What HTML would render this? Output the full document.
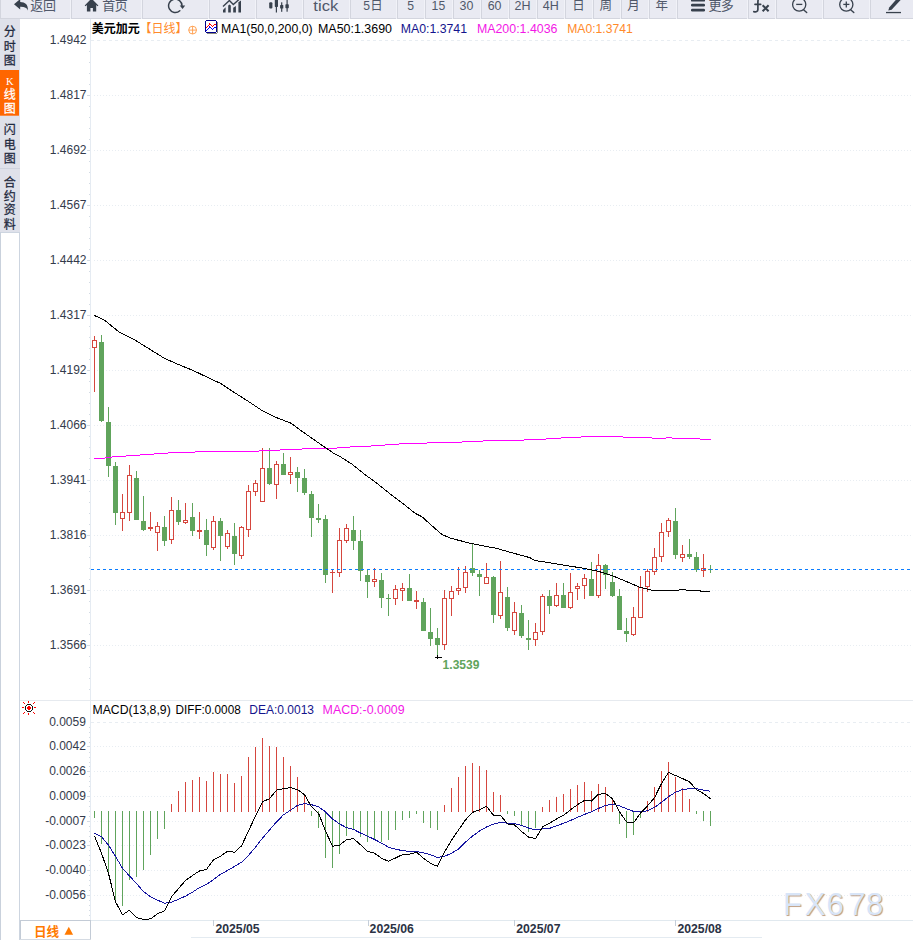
<!DOCTYPE html>
<html><head><meta charset="utf-8"><title>chart</title><style>html,body{margin:0;padding:0;background:#fff}body{width:913px;height:940px;overflow:hidden}svg{display:block}</style></head><body>
<svg width="913" height="940" viewBox="0 0 913 940" font-family='"Liberation Sans", "Noto Sans CJK SC", sans-serif'>
<rect width="913" height="940" fill="#fff"/>
<g id="toolbar">
<rect x="0" y="0" width="913" height="18" fill="#e9eaf2"/>
<rect x="0" y="18" width="913" height="1" fill="#d3d5de"/>
<rect x="0" y="0" width="1" height="18" fill="#d3d5de"/>
<rect x="70" y="0" width="1" height="19" fill="#f1f2f8"/><rect x="71" y="0" width="1" height="18" fill="#d3d5de"/>
<rect x="141" y="0" width="1" height="19" fill="#f1f2f8"/><rect x="142" y="0" width="1" height="18" fill="#d3d5de"/>
<rect x="208" y="0" width="1" height="19" fill="#f1f2f8"/><rect x="209" y="0" width="1" height="18" fill="#d3d5de"/>
<rect x="255" y="0" width="1" height="19" fill="#f1f2f8"/><rect x="256" y="0" width="1" height="18" fill="#d3d5de"/>
<rect x="302" y="0" width="1" height="19" fill="#f1f2f8"/><rect x="303" y="0" width="1" height="18" fill="#d3d5de"/>
<rect x="349" y="0" width="1" height="19" fill="#f1f2f8"/><rect x="350" y="0" width="1" height="18" fill="#d3d5de"/>
<rect x="396" y="0" width="1" height="19" fill="#f1f2f8"/><rect x="397" y="0" width="1" height="18" fill="#d3d5de"/>
<rect x="424" y="0" width="1" height="19" fill="#f1f2f8"/><rect x="425" y="0" width="1" height="18" fill="#d3d5de"/>
<rect x="452" y="0" width="1" height="19" fill="#f1f2f8"/><rect x="453" y="0" width="1" height="18" fill="#d3d5de"/>
<rect x="480" y="0" width="1" height="19" fill="#f1f2f8"/><rect x="481" y="0" width="1" height="18" fill="#d3d5de"/>
<rect x="508" y="0" width="1" height="19" fill="#f1f2f8"/><rect x="509" y="0" width="1" height="18" fill="#d3d5de"/>
<rect x="536" y="0" width="1" height="19" fill="#f1f2f8"/><rect x="537" y="0" width="1" height="18" fill="#d3d5de"/>
<rect x="564" y="0" width="1" height="19" fill="#f1f2f8"/><rect x="565" y="0" width="1" height="18" fill="#d3d5de"/>
<rect x="592" y="0" width="1" height="19" fill="#f1f2f8"/><rect x="593" y="0" width="1" height="18" fill="#d3d5de"/>
<rect x="620" y="0" width="1" height="19" fill="#f1f2f8"/><rect x="621" y="0" width="1" height="18" fill="#d3d5de"/>
<rect x="648" y="0" width="1" height="19" fill="#f1f2f8"/><rect x="649" y="0" width="1" height="18" fill="#d3d5de"/>
<rect x="676" y="0" width="1" height="19" fill="#f1f2f8"/><rect x="677" y="0" width="1" height="18" fill="#d3d5de"/>
<rect x="747" y="0" width="1" height="19" fill="#f1f2f8"/><rect x="748" y="0" width="1" height="18" fill="#d3d5de"/>
<rect x="775" y="0" width="1" height="19" fill="#f1f2f8"/><rect x="776" y="0" width="1" height="18" fill="#d3d5de"/>
<rect x="822" y="0" width="1" height="19" fill="#f1f2f8"/><rect x="823" y="0" width="1" height="18" fill="#d3d5de"/>
<rect x="869" y="0" width="1" height="19" fill="#f1f2f8"/><rect x="870" y="0" width="1" height="18" fill="#d3d5de"/>
<path fill="#38414d" d="M14 4.3 L20.2 -1 L20.2 1.9 C25.5 2 28.2 4.6 28 10.6 C27 7.6 24.6 6.6 20.2 6.7 L20.2 9.6 Z"/>
<text x="30.3 42.9" y="9.9" font-size="13" fill="#50586a">返回</text>
<path fill="#38414d" d="M91.5 -1.5 L98.4 5.4 L97.6 6.2 L96.2 4.9 L96.2 11.5 L92.9 11.5 L92.9 7.9 L90.4 7.9 L90.4 11.5 L86.9 11.5 L86.9 4.9 L85.5 6.2 L84.7 5.4 Z"/>
<text x="102.2 114.8" y="9.9" font-size="13" fill="#50586a">首页</text>
<path fill="none" stroke="#38414d" stroke-width="1.5" stroke-linecap="round" d="M179.8 10.8 A6.7 6.7 0 1 1 182 6"/>
<path fill="#38414d" d="M179.7 5.4 L185.2 5.4 L182.6 8.9 Z"/>
<g fill="#38414d"><path d="M223 9.9 L225.6 7.3 L225.6 12.5 L223 12.5 Z"/><path d="M228.2 5.6 L229.5 4.4 L230.8 5.6 L230.8 12.5 L228.2 12.5 Z"/><path d="M233.2 7.7 L235.9 5.9 L235.9 12.5 L233.2 12.5 Z"/><path d="M238.4 2.2 L241 0.4 L241 12.5 L238.4 12.5 Z"/></g>
<path fill="none" stroke="#38414d" stroke-width="1.4" d="M223 6.6 L229.4 0.5 L233.3 4.5 L239 -0.5"/>
<g fill="#38414d"><rect x="269.2" y="2.3" width="3.2" height="6.3" rx="1"/><rect x="274.8" y="-1" width="3.2" height="7.9" rx="0.6"/><rect x="275.8" y="0" width="1.2" height="12.5"/><rect x="280.1" y="4.9" width="3.2" height="3.7" rx="0.6"/><rect x="281.1" y="2.3" width="1.2" height="9.5"/><rect x="285.4" y="4.3" width="3.4" height="3.9" rx="0.6"/><rect x="286.5" y="-1" width="1.2" height="12.7"/></g>
<text x="313.3" y="10.7" font-size="15.5" fill="#50586a" textLength="25" lengthAdjust="spacingAndGlyphs">tick</text>
<text x="363.2" y="10.3" font-size="13.5" fill="#50586a" textLength="6.8" lengthAdjust="spacingAndGlyphs">5</text>
<text x="370.2" y="9.9" font-size="12.5" fill="#50586a">日</text>
<text x="407.2" y="10.2" font-size="13.5" fill="#50586a" textLength="6.8" lengthAdjust="spacingAndGlyphs">5</text>
<text x="431.6" y="10.2" font-size="13.5" fill="#50586a" textLength="13.6" lengthAdjust="spacingAndGlyphs">15</text>
<text x="459.5" y="10.2" font-size="13.5" fill="#50586a" textLength="13.8" lengthAdjust="spacingAndGlyphs">30</text>
<text x="487.7" y="10.2" font-size="13.5" fill="#50586a" textLength="13.8" lengthAdjust="spacingAndGlyphs">60</text>
<text x="514.5" y="10.2" font-size="13.5" fill="#50586a" textLength="16" lengthAdjust="spacingAndGlyphs">2H</text>
<text x="542.7" y="10.2" font-size="13.5" fill="#50586a" textLength="16" lengthAdjust="spacingAndGlyphs">4H</text>
<text x="572.2" y="9.9" font-size="12.5" fill="#50586a">日</text>
<text x="599.6" y="9.9" font-size="12.5" fill="#50586a">周</text>
<text x="627.2" y="9.9" font-size="12.5" fill="#50586a">月</text>
<text x="655.6" y="9.9" font-size="12.5" fill="#50586a">年</text>
<g fill="#38414d"><rect x="691" y="-1" width="14" height="2.6" rx="1.2"/><rect x="691" y="3.8" width="14" height="2.6" rx="1.2"/><rect x="691" y="8.8" width="14" height="2.6" rx="1.2"/></g>
<text x="708.4 720.8" y="9.9" font-size="13" fill="#50586a">更多</text>
<path fill="none" stroke="#38414d" stroke-width="1.7" stroke-linecap="round" d="M760.5 -1 C758.5 -1.5 757.9 -0.5 757.9 2 L757.9 9.5 C757.9 11.6 756.2 12.2 753.8 11.6 M755 4.3 L760.7 4.3"/>
<path fill="none" stroke="#38414d" stroke-width="2" d="M762.6 5.2 L768.6 11.3 M768.6 5.2 L762.6 11.3"/>
<circle cx="799.2" cy="4.5" r="6.6" fill="none" stroke="#38414d" stroke-width="1.3"/>
<path stroke="#38414d" stroke-width="1.4" stroke-linecap="round" d="M803.8000000000001 9.9 L806.7 12.5"/>
<path stroke="#38414d" stroke-width="1.3" d="M796.2 4.4 L802.3000000000001 4.4"/>
<circle cx="846.3" cy="4.5" r="6.6" fill="none" stroke="#38414d" stroke-width="1.3"/>
<path stroke="#38414d" stroke-width="1.4" stroke-linecap="round" d="M850.9 9.9 L853.8 12.5"/>
<path stroke="#38414d" stroke-width="1.3" d="M843.3 4.4 L849.4 4.4"/>
<path stroke="#38414d" stroke-width="1.3" d="M846.3 1.4 L846.3 7.5"/>
<path fill="#38414d" d="M888.3 10.6 L889.2 7.4 L896.6 -1 L900.6 -1 L900.6 0 L891.6 9.7 Z"/>
<rect x="886" y="11.9" width="15" height="1.3" fill="#38414d"/>
</g>
<g id="sidebar">
<rect x="0" y="19" width="20" height="213.5" fill="#dfe1ea"/>
<rect x="0" y="70" width="19" height="45.7" fill="#ff6600"/>
<rect x="0" y="168" width="20" height="1" fill="#cfd3de"/>
<rect x="0" y="232" width="20" height="1" fill="#cdd5e0"/><rect x="0" y="232" width="1" height="708" fill="#c9d1dc"/><rect x="19" y="232" width="1" height="708" fill="#cdd5e0"/>
<text x="3.7" y="35.96" font-size="12" fill="#1f2a40" stroke="#1f2a40" stroke-width="0.26">分</text>
<text x="3.7" y="50.66" font-size="12" fill="#1f2a40" stroke="#1f2a40" stroke-width="0.26">时</text>
<text x="3.7" y="64.76" font-size="12" fill="#1f2a40" stroke="#1f2a40" stroke-width="0.26">图</text>
<text x="9.7" y="85.0" font-size="10.5" font-family='"Liberation Serif", serif' fill="#fff" text-anchor="middle">K</text>
<text x="3.7" y="99.16" font-size="12" fill="#fff" stroke="#fff" stroke-width="0.26">线</text>
<text x="3.7" y="113.46" font-size="12" fill="#fff" stroke="#fff" stroke-width="0.26">图</text>
<text x="3.7" y="134.26" font-size="12" fill="#1f2a40" stroke="#1f2a40" stroke-width="0.26">闪</text>
<text x="3.7" y="148.76" font-size="12" fill="#1f2a40" stroke="#1f2a40" stroke-width="0.26">电</text>
<text x="3.7" y="162.66" font-size="12" fill="#1f2a40" stroke="#1f2a40" stroke-width="0.26">图</text>
<text x="3.7" y="186.56" font-size="12" fill="#1f2a40" stroke="#1f2a40" stroke-width="0.26">合</text>
<text x="3.7" y="200.66" font-size="12" fill="#1f2a40" stroke="#1f2a40" stroke-width="0.26">约</text>
<text x="3.7" y="214.46" font-size="12" fill="#1f2a40" stroke="#1f2a40" stroke-width="0.26">资</text>
<text x="3.7" y="228.56" font-size="12" fill="#1f2a40" stroke="#1f2a40" stroke-width="0.26">料</text>
</g>
<g id="grid" shape-rendering="crispEdges">
<rect x="90" y="19" width="1" height="902" fill="#e5ebf2"/>
<rect x="20" y="700" width="893" height="1" fill="#e6eaef"/>
<rect x="20" y="920" width="893" height="1" fill="#e1e9ef"/>
<rect x="191" y="937" width="571" height="1" fill="#e4ebf1"/>
<line x1="91" y1="40.5" x2="911" y2="40.5" stroke="#e8edf2" stroke-width="1" stroke-dasharray="3 3"/>
<rect x="89" y="51" width="1" height="1" fill="#d3dbe4"/>
<rect x="89" y="62" width="1" height="1" fill="#d3dbe4"/>
<rect x="89" y="73" width="1" height="1" fill="#d3dbe4"/>
<rect x="89" y="84" width="1" height="1" fill="#d3dbe4"/>
<line x1="94" y1="95.5" x2="911" y2="95.5" stroke="#e8edf2" stroke-width="1" stroke-dasharray="1 2"/>
<rect x="87" y="95" width="3" height="1" fill="#d3dbe4"/>
<rect x="89" y="106" width="1" height="1" fill="#d3dbe4"/>
<rect x="89" y="117" width="1" height="1" fill="#d3dbe4"/>
<rect x="89" y="128" width="1" height="1" fill="#d3dbe4"/>
<rect x="89" y="139" width="1" height="1" fill="#d3dbe4"/>
<line x1="94" y1="150.5" x2="911" y2="150.5" stroke="#e8edf2" stroke-width="1" stroke-dasharray="1 2"/>
<rect x="87" y="150" width="3" height="1" fill="#d3dbe4"/>
<rect x="89" y="161" width="1" height="1" fill="#d3dbe4"/>
<rect x="89" y="172" width="1" height="1" fill="#d3dbe4"/>
<rect x="89" y="183" width="1" height="1" fill="#d3dbe4"/>
<rect x="89" y="194" width="1" height="1" fill="#d3dbe4"/>
<line x1="94" y1="205.5" x2="911" y2="205.5" stroke="#e8edf2" stroke-width="1" stroke-dasharray="1 2"/>
<rect x="87" y="205" width="3" height="1" fill="#d3dbe4"/>
<rect x="89" y="216" width="1" height="1" fill="#d3dbe4"/>
<rect x="89" y="227" width="1" height="1" fill="#d3dbe4"/>
<rect x="89" y="238" width="1" height="1" fill="#d3dbe4"/>
<rect x="89" y="249" width="1" height="1" fill="#d3dbe4"/>
<line x1="94" y1="260.5" x2="911" y2="260.5" stroke="#e8edf2" stroke-width="1" stroke-dasharray="1 2"/>
<rect x="87" y="260" width="3" height="1" fill="#d3dbe4"/>
<rect x="89" y="271" width="1" height="1" fill="#d3dbe4"/>
<rect x="89" y="282" width="1" height="1" fill="#d3dbe4"/>
<rect x="89" y="293" width="1" height="1" fill="#d3dbe4"/>
<rect x="89" y="304" width="1" height="1" fill="#d3dbe4"/>
<line x1="94" y1="315.5" x2="911" y2="315.5" stroke="#e8edf2" stroke-width="1" stroke-dasharray="1 2"/>
<rect x="87" y="315" width="3" height="1" fill="#d3dbe4"/>
<rect x="89" y="326" width="1" height="1" fill="#d3dbe4"/>
<rect x="89" y="337" width="1" height="1" fill="#d3dbe4"/>
<rect x="89" y="348" width="1" height="1" fill="#d3dbe4"/>
<rect x="89" y="359" width="1" height="1" fill="#d3dbe4"/>
<line x1="94" y1="370.5" x2="911" y2="370.5" stroke="#e8edf2" stroke-width="1" stroke-dasharray="1 2"/>
<rect x="87" y="370" width="3" height="1" fill="#d3dbe4"/>
<rect x="89" y="381" width="1" height="1" fill="#d3dbe4"/>
<rect x="89" y="392" width="1" height="1" fill="#d3dbe4"/>
<rect x="89" y="403" width="1" height="1" fill="#d3dbe4"/>
<rect x="89" y="414" width="1" height="1" fill="#d3dbe4"/>
<line x1="94" y1="425.5" x2="911" y2="425.5" stroke="#e8edf2" stroke-width="1" stroke-dasharray="1 2"/>
<rect x="87" y="425" width="3" height="1" fill="#d3dbe4"/>
<rect x="89" y="436" width="1" height="1" fill="#d3dbe4"/>
<rect x="89" y="447" width="1" height="1" fill="#d3dbe4"/>
<rect x="89" y="458" width="1" height="1" fill="#d3dbe4"/>
<rect x="89" y="469" width="1" height="1" fill="#d3dbe4"/>
<line x1="94" y1="480.5" x2="911" y2="480.5" stroke="#e8edf2" stroke-width="1" stroke-dasharray="1 2"/>
<rect x="87" y="480" width="3" height="1" fill="#d3dbe4"/>
<rect x="89" y="491" width="1" height="1" fill="#d3dbe4"/>
<rect x="89" y="502" width="1" height="1" fill="#d3dbe4"/>
<rect x="89" y="513" width="1" height="1" fill="#d3dbe4"/>
<rect x="89" y="524" width="1" height="1" fill="#d3dbe4"/>
<line x1="94" y1="535.5" x2="911" y2="535.5" stroke="#e8edf2" stroke-width="1" stroke-dasharray="1 2"/>
<rect x="87" y="535" width="3" height="1" fill="#d3dbe4"/>
<rect x="89" y="546" width="1" height="1" fill="#d3dbe4"/>
<rect x="89" y="557" width="1" height="1" fill="#d3dbe4"/>
<rect x="89" y="568" width="1" height="1" fill="#d3dbe4"/>
<rect x="89" y="579" width="1" height="1" fill="#d3dbe4"/>
<line x1="94" y1="590.5" x2="911" y2="590.5" stroke="#e8edf2" stroke-width="1" stroke-dasharray="1 2"/>
<rect x="87" y="590" width="3" height="1" fill="#d3dbe4"/>
<rect x="89" y="601" width="1" height="1" fill="#d3dbe4"/>
<rect x="89" y="612" width="1" height="1" fill="#d3dbe4"/>
<rect x="89" y="623" width="1" height="1" fill="#d3dbe4"/>
<rect x="89" y="634" width="1" height="1" fill="#d3dbe4"/>
<line x1="94" y1="645.5" x2="911" y2="645.5" stroke="#e8edf2" stroke-width="1" stroke-dasharray="1 2"/>
<rect x="87" y="645" width="3" height="1" fill="#d3dbe4"/>
<rect x="89" y="656" width="1" height="1" fill="#d3dbe4"/>
<rect x="89" y="667" width="1" height="1" fill="#d3dbe4"/>
<rect x="89" y="678" width="1" height="1" fill="#d3dbe4"/>
<rect x="89" y="689" width="1" height="1" fill="#d3dbe4"/>
<line x1="91" y1="722.5" x2="911" y2="722.5" stroke="#e8edf2" stroke-width="1" stroke-dasharray="3 3"/>
<line x1="94" y1="746.5" x2="911" y2="746.5" stroke="#e8edf2" stroke-width="1" stroke-dasharray="1 2"/>
<rect x="87" y="746" width="3" height="1" fill="#d3dbe4"/>
<line x1="94" y1="771.5" x2="911" y2="771.5" stroke="#e8edf2" stroke-width="1" stroke-dasharray="1 2"/>
<rect x="87" y="771" width="3" height="1" fill="#d3dbe4"/>
<line x1="94" y1="796.5" x2="911" y2="796.5" stroke="#e8edf2" stroke-width="1" stroke-dasharray="1 2"/>
<rect x="87" y="796" width="3" height="1" fill="#d3dbe4"/>
<line x1="94" y1="821.5" x2="911" y2="821.5" stroke="#e8edf2" stroke-width="1" stroke-dasharray="1 2"/>
<rect x="87" y="821" width="3" height="1" fill="#d3dbe4"/>
<line x1="94" y1="845.5" x2="911" y2="845.5" stroke="#e8edf2" stroke-width="1" stroke-dasharray="1 2"/>
<rect x="87" y="845" width="3" height="1" fill="#d3dbe4"/>
<line x1="94" y1="870.5" x2="911" y2="870.5" stroke="#e8edf2" stroke-width="1" stroke-dasharray="1 2"/>
<rect x="87" y="870" width="3" height="1" fill="#d3dbe4"/>
<line x1="94" y1="895.5" x2="911" y2="895.5" stroke="#e8edf2" stroke-width="1" stroke-dasharray="1 2"/>
<rect x="87" y="895" width="3" height="1" fill="#d3dbe4"/>
<rect x="89" y="727" width="1" height="1" fill="#d3dbe4"/>
<rect x="89" y="732" width="1" height="1" fill="#d3dbe4"/>
<rect x="89" y="737" width="1" height="1" fill="#d3dbe4"/>
<rect x="89" y="742" width="1" height="1" fill="#d3dbe4"/>
<rect x="89" y="752" width="1" height="1" fill="#d3dbe4"/>
<rect x="89" y="757" width="1" height="1" fill="#d3dbe4"/>
<rect x="89" y="762" width="1" height="1" fill="#d3dbe4"/>
<rect x="89" y="766" width="1" height="1" fill="#d3dbe4"/>
<rect x="89" y="776" width="1" height="1" fill="#d3dbe4"/>
<rect x="89" y="781" width="1" height="1" fill="#d3dbe4"/>
<rect x="89" y="786" width="1" height="1" fill="#d3dbe4"/>
<rect x="89" y="791" width="1" height="1" fill="#d3dbe4"/>
<rect x="89" y="801" width="1" height="1" fill="#d3dbe4"/>
<rect x="89" y="806" width="1" height="1" fill="#d3dbe4"/>
<rect x="89" y="811" width="1" height="1" fill="#d3dbe4"/>
<rect x="89" y="816" width="1" height="1" fill="#d3dbe4"/>
<rect x="89" y="826" width="1" height="1" fill="#d3dbe4"/>
<rect x="89" y="831" width="1" height="1" fill="#d3dbe4"/>
<rect x="89" y="836" width="1" height="1" fill="#d3dbe4"/>
<rect x="89" y="841" width="1" height="1" fill="#d3dbe4"/>
<rect x="89" y="850" width="1" height="1" fill="#d3dbe4"/>
<rect x="89" y="855" width="1" height="1" fill="#d3dbe4"/>
<rect x="89" y="860" width="1" height="1" fill="#d3dbe4"/>
<rect x="89" y="865" width="1" height="1" fill="#d3dbe4"/>
<rect x="89" y="875" width="1" height="1" fill="#d3dbe4"/>
<rect x="89" y="880" width="1" height="1" fill="#d3dbe4"/>
<rect x="89" y="885" width="1" height="1" fill="#d3dbe4"/>
<rect x="89" y="890" width="1" height="1" fill="#d3dbe4"/>
<rect x="89" y="900" width="1" height="1" fill="#d3dbe4"/>
<rect x="89" y="905" width="1" height="1" fill="#d3dbe4"/>
<rect x="89" y="910" width="1" height="1" fill="#d3dbe4"/>
<rect x="89" y="915" width="1" height="1" fill="#d3dbe4"/>
<rect x="213" y="920" width="1" height="6" fill="#c5ced9"/>
<rect x="368" y="920" width="1" height="6" fill="#c5ced9"/>
<rect x="514" y="920" width="1" height="6" fill="#c5ced9"/>
<rect x="675" y="920" width="1" height="6" fill="#c5ced9"/>
</g>
<text x="86.5" y="43.6" font-size="12" fill="#333a4b" text-anchor="end">1.4942</text>
<text x="86.5" y="98.6" font-size="12" fill="#333a4b" text-anchor="end">1.4817</text>
<text x="86.5" y="153.6" font-size="12" fill="#333a4b" text-anchor="end">1.4692</text>
<text x="86.5" y="208.6" font-size="12" fill="#333a4b" text-anchor="end">1.4567</text>
<text x="86.5" y="263.6" font-size="12" fill="#333a4b" text-anchor="end">1.4442</text>
<text x="86.5" y="318.6" font-size="12" fill="#333a4b" text-anchor="end">1.4317</text>
<text x="86.5" y="373.6" font-size="12" fill="#333a4b" text-anchor="end">1.4192</text>
<text x="86.5" y="428.6" font-size="12" fill="#333a4b" text-anchor="end">1.4066</text>
<text x="86.5" y="483.6" font-size="12" fill="#333a4b" text-anchor="end">1.3941</text>
<text x="86.5" y="538.6" font-size="12" fill="#333a4b" text-anchor="end">1.3816</text>
<text x="86.5" y="593.6" font-size="12" fill="#333a4b" text-anchor="end">1.3691</text>
<text x="86.5" y="648.6" font-size="12" fill="#333a4b" text-anchor="end">1.3566</text>
<text x="85.9" y="726.1" font-size="12" fill="#333a4b" text-anchor="end">0.0059</text>
<text x="85.9" y="750.1" font-size="12" fill="#333a4b" text-anchor="end">0.0042</text>
<text x="85.9" y="775.1" font-size="12" fill="#333a4b" text-anchor="end">0.0026</text>
<text x="85.9" y="800.1" font-size="12" fill="#333a4b" text-anchor="end">0.0009</text>
<text x="85.9" y="825.1" font-size="12" fill="#333a4b" text-anchor="end">-0.0007</text>
<text x="85.9" y="849.1" font-size="12" fill="#333a4b" text-anchor="end">-0.0023</text>
<text x="85.9" y="874.1" font-size="12" fill="#333a4b" text-anchor="end">-0.0040</text>
<text x="85.9" y="899.1" font-size="12" fill="#333a4b" text-anchor="end">-0.0056</text>
<text x="215.4" y="932.7" font-size="12" fill="#2b3244" textLength="44.3" lengthAdjust="spacingAndGlyphs" font-weight="bold">2025/05</text>
<text x="369.6" y="932.7" font-size="12" fill="#2b3244" textLength="44.3" lengthAdjust="spacingAndGlyphs" font-weight="bold">2025/06</text>
<text x="516.2" y="932.7" font-size="12" fill="#2b3244" textLength="44.3" lengthAdjust="spacingAndGlyphs" font-weight="bold">2025/07</text>
<text x="677.4" y="932.7" font-size="12" fill="#2b3244" textLength="44.3" lengthAdjust="spacingAndGlyphs" font-weight="bold">2025/08</text>
<text x="91.8 103.8 115.8 127.8" y="33.3" font-size="12" fill="#000" font-weight="bold">美元加元</text>
<text x="139.6 151.6 163.6 175.6" y="33.3" font-size="12" fill="#ff8a2a">【日线】</text>
<g stroke="#ff9a45" stroke-width="0.9" fill="none"><circle cx="192.6" cy="30.1" r="3.9"/><path d="M188.7 30.1 H196.5 M192.6 26.2 V34"/></g>
<g shape-rendering="crispEdges">
<rect x="217" y="22" width="1" height="11" fill="#8a8a7c"/><rect x="207" y="33" width="10" height="1" fill="#8a8a7c"/>
<rect x="206" y="21" width="10" height="11" fill="#fff"/>
<rect x="206" y="20" width="10" height="1" fill="#00008b"/><rect x="206" y="32" width="10" height="1" fill="#00008b"/><rect x="205" y="21" width="1" height="11" fill="#00008b"/><rect x="216" y="21" width="1" height="11" fill="#00008b"/>
<rect x="206" y="27" width="1" height="1" fill="#f00"/><rect x="206" y="30" width="1" height="1" fill="#00f"/>
<rect x="207" y="26" width="1" height="1" fill="#f00"/><rect x="207" y="29" width="1" height="1" fill="#00f"/>
<rect x="208" y="25" width="1" height="1" fill="#f00"/><rect x="208" y="28" width="1" height="1" fill="#00f"/>
<rect x="209" y="23" width="1" height="1" fill="#f00"/><rect x="209" y="26" width="1" height="1" fill="#00f"/>
<rect x="209" y="24" width="1" height="1" fill="#f00"/><rect x="209" y="27" width="1" height="1" fill="#00f"/>
<rect x="210" y="24" width="1" height="1" fill="#f00"/><rect x="210" y="27" width="1" height="1" fill="#00f"/>
<rect x="211" y="25" width="1" height="1" fill="#f00"/><rect x="211" y="28" width="1" height="1" fill="#00f"/>
<rect x="212" y="26" width="1" height="1" fill="#f00"/><rect x="212" y="29" width="1" height="1" fill="#00f"/>
<rect x="213" y="25" width="1" height="1" fill="#f00"/><rect x="213" y="28" width="1" height="1" fill="#00f"/>
<rect x="214" y="24" width="1" height="1" fill="#f00"/><rect x="214" y="27" width="1" height="1" fill="#00f"/>
<rect x="215" y="24" width="1" height="1" fill="#f00"/><rect x="215" y="27" width="1" height="1" fill="#00f"/>
</g>
<text x="221" y="32.8" font-size="12" fill="#000" textLength="91.6" lengthAdjust="spacingAndGlyphs">MA1(50,0,200,0)</text>
<text x="318" y="32.8" font-size="12" fill="#000" textLength="74" lengthAdjust="spacingAndGlyphs">MA50:1.3690</text>
<text x="400.7" y="32.8" font-size="12" fill="#14148c" textLength="66.3" lengthAdjust="spacingAndGlyphs">MA0:1.3741</text>
<text x="476.9" y="32.8" font-size="12" fill="#f318e6" textLength="80.6" lengthAdjust="spacingAndGlyphs">MA200:1.4036</text>
<text x="567.2" y="32.8" font-size="12" fill="#ff8a2a" textLength="65.5" lengthAdjust="spacingAndGlyphs">MA0:1.3741</text>
<text x="92.5" y="714.4" font-size="12" fill="#000" textLength="78.2" lengthAdjust="spacingAndGlyphs">MACD(13,8,9)</text>
<text x="175.5" y="714.4" font-size="12" fill="#000" textLength="65.2" lengthAdjust="spacingAndGlyphs">DIFF:0.0008</text>
<text x="249.3" y="714.4" font-size="12" fill="#14148c" textLength="64.7" lengthAdjust="spacingAndGlyphs">DEA:0.0013</text>
<text x="322.6" y="714.4" font-size="12" fill="#f318e6" textLength="82" lengthAdjust="spacingAndGlyphs">MACD:-0.0009</text>
<g shape-rendering="crispEdges">
<rect x="27" y="704" width="4" height="1" fill="#111"/>
<rect x="26" y="705" width="1" height="1" fill="#111"/>
<rect x="31" y="705" width="1" height="1" fill="#111"/>
<rect x="25" y="706" width="1" height="4" fill="#111"/>
<rect x="32" y="706" width="1" height="4" fill="#111"/>
<rect x="26" y="710" width="1" height="1" fill="#111"/>
<rect x="31" y="710" width="1" height="1" fill="#111"/>
<rect x="27" y="711" width="4" height="1" fill="#111"/>
<rect x="28" y="706" width="2" height="4" fill="#f00"/>
<rect x="27" y="707" width="4" height="2" fill="#f00"/>
<rect x="28" y="701" width="1" height="2" fill="#f00"/>
<rect x="28" y="713" width="1" height="2" fill="#f00"/>
<rect x="22" y="707" width="2" height="1" fill="#f00"/>
<rect x="34" y="707" width="2" height="1" fill="#f00"/>
<rect x="23" y="702" width="1" height="1" fill="#f00"/>
<rect x="24" y="703" width="1" height="1" fill="#f00"/>
<rect x="34" y="702" width="1" height="1" fill="#f00"/>
<rect x="33" y="703" width="1" height="1" fill="#f00"/>
<rect x="23" y="713" width="1" height="1" fill="#f00"/>
<rect x="24" y="712" width="1" height="1" fill="#f00"/>
<rect x="34" y="713" width="1" height="1" fill="#f00"/>
<rect x="33" y="712" width="1" height="1" fill="#f00"/>
</g>
<g id="candles" shape-rendering="crispEdges">
<rect x="94" y="336" width="1" height="4" fill="#d5463e"/>
<rect x="94" y="348" width="1" height="44" fill="#d5463e"/>
<path fill="#d5463e" fill-rule="evenodd" d="M92 340h5v8h-5z M93 341v6h3v-6z"/>
<rect x="101" y="335" width="1" height="87" fill="#60a45c"/>
<rect x="99" y="342" width="5" height="79" fill="#60a45c"/>
<rect x="108" y="407" width="1" height="70" fill="#60a45c"/>
<rect x="106" y="422" width="5" height="44" fill="#60a45c"/>
<rect x="115" y="462" width="1" height="63" fill="#60a45c"/>
<rect x="113" y="466" width="5" height="47" fill="#60a45c"/>
<rect x="122" y="494" width="1" height="18" fill="#d5463e"/>
<rect x="122" y="519" width="1" height="12" fill="#d5463e"/>
<path fill="#d5463e" fill-rule="evenodd" d="M120 512h5v7h-5z M121 513v5h3v-5z"/>
<rect x="129" y="465" width="1" height="10" fill="#d5463e"/>
<rect x="129" y="513" width="1" height="8" fill="#d5463e"/>
<path fill="#d5463e" fill-rule="evenodd" d="M127 475h5v38h-5z M128 476v36h3v-36z"/>
<rect x="136" y="471" width="1" height="49" fill="#60a45c"/>
<rect x="134" y="478" width="5" height="42" fill="#60a45c"/>
<rect x="143" y="496" width="1" height="35" fill="#60a45c"/>
<rect x="141" y="521" width="5" height="9" fill="#60a45c"/>
<rect x="150" y="512" width="1" height="15" fill="#d5463e"/>
<rect x="150" y="529" width="1" height="2" fill="#d5463e"/>
<rect x="148" y="527" width="5" height="2" fill="#d5463e"/>
<rect x="157" y="522" width="1" height="4" fill="#d5463e"/>
<rect x="157" y="533" width="1" height="18" fill="#d5463e"/>
<path fill="#d5463e" fill-rule="evenodd" d="M155 526h5v7h-5z M156 527v5h3v-5z"/>
<rect x="164" y="516" width="1" height="30" fill="#60a45c"/>
<rect x="162" y="527" width="5" height="14" fill="#60a45c"/>
<rect x="171" y="497" width="1" height="13" fill="#d5463e"/>
<rect x="171" y="540" width="1" height="4" fill="#d5463e"/>
<path fill="#d5463e" fill-rule="evenodd" d="M169 510h5v30h-5z M170 511v28h3v-28z"/>
<rect x="178" y="500" width="1" height="25" fill="#60a45c"/>
<rect x="176" y="510" width="5" height="12" fill="#60a45c"/>
<rect x="185" y="503" width="1" height="17" fill="#d5463e"/>
<rect x="185" y="523" width="1" height="1" fill="#d5463e"/>
<path fill="#d5463e" fill-rule="evenodd" d="M183 520h5v3h-5z M184 521v1h3v-1z"/>
<rect x="192" y="503" width="1" height="33" fill="#60a45c"/>
<rect x="190" y="517" width="5" height="14" fill="#60a45c"/>
<rect x="199" y="512" width="1" height="18" fill="#d5463e"/>
<rect x="199" y="532" width="1" height="7" fill="#d5463e"/>
<rect x="197" y="530" width="5" height="2" fill="#d5463e"/>
<rect x="206" y="519" width="1" height="37" fill="#60a45c"/>
<rect x="204" y="530" width="5" height="15" fill="#60a45c"/>
<rect x="213" y="516" width="1" height="5" fill="#d5463e"/>
<rect x="213" y="548" width="1" height="2" fill="#d5463e"/>
<path fill="#d5463e" fill-rule="evenodd" d="M211 521h5v27h-5z M212 522v25h3v-25z"/>
<rect x="220" y="518" width="1" height="43" fill="#60a45c"/>
<rect x="218" y="521" width="5" height="15" fill="#60a45c"/>
<rect x="227" y="530" width="1" height="3" fill="#d5463e"/>
<rect x="227" y="547" width="1" height="2" fill="#d5463e"/>
<path fill="#d5463e" fill-rule="evenodd" d="M225 533h5v14h-5z M226 534v12h3v-12z"/>
<rect x="234" y="523" width="1" height="42" fill="#60a45c"/>
<rect x="232" y="536" width="5" height="18" fill="#60a45c"/>
<rect x="241" y="526" width="1" height="1" fill="#d5463e"/>
<rect x="241" y="556" width="1" height="3" fill="#d5463e"/>
<path fill="#d5463e" fill-rule="evenodd" d="M239 527h5v29h-5z M240 528v27h3v-27z"/>
<rect x="248" y="485" width="1" height="6" fill="#d5463e"/>
<rect x="248" y="530" width="1" height="7" fill="#d5463e"/>
<path fill="#d5463e" fill-rule="evenodd" d="M246 491h5v39h-5z M247 492v37h3v-37z"/>
<rect x="255" y="480" width="1" height="3" fill="#d5463e"/>
<rect x="255" y="492" width="1" height="4" fill="#d5463e"/>
<path fill="#d5463e" fill-rule="evenodd" d="M253 483h5v9h-5z M254 484v7h3v-7z"/>
<rect x="262" y="448" width="1" height="20" fill="#d5463e"/>
<path fill="#d5463e" fill-rule="evenodd" d="M260 468h5v34h-5z M261 469v32h3v-32z"/>
<rect x="269" y="448" width="1" height="37" fill="#60a45c"/>
<rect x="267" y="468" width="5" height="16" fill="#60a45c"/>
<rect x="276" y="461" width="1" height="3" fill="#d5463e"/>
<rect x="276" y="485" width="1" height="14" fill="#d5463e"/>
<path fill="#d5463e" fill-rule="evenodd" d="M274 464h5v21h-5z M275 465v19h3v-19z"/>
<rect x="283" y="453" width="1" height="22" fill="#60a45c"/>
<rect x="281" y="464" width="5" height="11" fill="#60a45c"/>
<rect x="290" y="457" width="1" height="15" fill="#d5463e"/>
<rect x="290" y="475" width="1" height="9" fill="#d5463e"/>
<path fill="#d5463e" fill-rule="evenodd" d="M288 472h5v3h-5z M289 473v1h3v-1z"/>
<rect x="297" y="467" width="1" height="25" fill="#60a45c"/>
<rect x="295" y="472" width="5" height="6" fill="#60a45c"/>
<rect x="304" y="469" width="1" height="26" fill="#60a45c"/>
<rect x="302" y="478" width="5" height="15" fill="#60a45c"/>
<rect x="311" y="491" width="1" height="46" fill="#60a45c"/>
<rect x="309" y="494" width="5" height="24" fill="#60a45c"/>
<rect x="318" y="504" width="1" height="19" fill="#60a45c"/>
<rect x="316" y="518" width="5" height="2" fill="#60a45c"/>
<rect x="325" y="515" width="1" height="68" fill="#60a45c"/>
<rect x="323" y="519" width="5" height="56" fill="#60a45c"/>
<rect x="332" y="570" width="1" height="2" fill="#d5463e"/>
<rect x="332" y="573" width="1" height="20" fill="#d5463e"/>
<rect x="330" y="572" width="5" height="1" fill="#d5463e"/>
<rect x="339" y="528" width="1" height="12" fill="#d5463e"/>
<rect x="339" y="573" width="1" height="4" fill="#d5463e"/>
<path fill="#d5463e" fill-rule="evenodd" d="M337 540h5v33h-5z M338 541v31h3v-31z"/>
<rect x="346" y="524" width="1" height="4" fill="#d5463e"/>
<rect x="346" y="541" width="1" height="2" fill="#d5463e"/>
<path fill="#d5463e" fill-rule="evenodd" d="M344 528h5v13h-5z M345 529v11h3v-11z"/>
<rect x="353" y="516" width="1" height="34" fill="#60a45c"/>
<rect x="351" y="530" width="5" height="11" fill="#60a45c"/>
<rect x="360" y="530" width="1" height="51" fill="#60a45c"/>
<rect x="358" y="541" width="5" height="30" fill="#60a45c"/>
<rect x="367" y="570" width="1" height="28" fill="#60a45c"/>
<rect x="365" y="575" width="5" height="7" fill="#60a45c"/>
<rect x="374" y="568" width="1" height="11" fill="#d5463e"/>
<rect x="374" y="582" width="1" height="5" fill="#d5463e"/>
<path fill="#d5463e" fill-rule="evenodd" d="M372 579h5v3h-5z M373 580v1h3v-1z"/>
<rect x="381" y="573" width="1" height="35" fill="#60a45c"/>
<rect x="379" y="580" width="5" height="18" fill="#60a45c"/>
<rect x="388" y="594" width="1" height="22" fill="#60a45c"/>
<rect x="386" y="598" width="5" height="1" fill="#60a45c"/>
<rect x="395" y="585" width="1" height="4" fill="#d5463e"/>
<rect x="395" y="599" width="1" height="6" fill="#d5463e"/>
<path fill="#d5463e" fill-rule="evenodd" d="M393 589h5v10h-5z M394 590v8h3v-8z"/>
<rect x="402" y="583" width="1" height="5" fill="#d5463e"/>
<rect x="402" y="591" width="1" height="10" fill="#d5463e"/>
<path fill="#d5463e" fill-rule="evenodd" d="M400 588h5v3h-5z M401 589v1h3v-1z"/>
<rect x="409" y="574" width="1" height="27" fill="#60a45c"/>
<rect x="407" y="588" width="5" height="13" fill="#60a45c"/>
<rect x="416" y="591" width="1" height="9" fill="#d5463e"/>
<rect x="416" y="602" width="1" height="7" fill="#d5463e"/>
<rect x="414" y="600" width="5" height="2" fill="#d5463e"/>
<rect x="423" y="598" width="1" height="33" fill="#60a45c"/>
<rect x="421" y="602" width="5" height="29" fill="#60a45c"/>
<rect x="430" y="608" width="1" height="38" fill="#60a45c"/>
<rect x="428" y="632" width="5" height="7" fill="#60a45c"/>
<rect x="437" y="628" width="1" height="28" fill="#60a45c"/>
<rect x="435" y="638" width="5" height="7" fill="#60a45c"/>
<rect x="444" y="590" width="1" height="8" fill="#d5463e"/>
<rect x="444" y="645" width="1" height="5" fill="#d5463e"/>
<path fill="#d5463e" fill-rule="evenodd" d="M442 598h5v47h-5z M443 599v45h3v-45z"/>
<rect x="451" y="586" width="1" height="5" fill="#d5463e"/>
<rect x="451" y="599" width="1" height="17" fill="#d5463e"/>
<path fill="#d5463e" fill-rule="evenodd" d="M449 591h5v8h-5z M450 592v6h3v-6z"/>
<rect x="458" y="567" width="1" height="21" fill="#d5463e"/>
<rect x="458" y="591" width="1" height="4" fill="#d5463e"/>
<path fill="#d5463e" fill-rule="evenodd" d="M456 588h5v3h-5z M457 589v1h3v-1z"/>
<rect x="465" y="566" width="1" height="6" fill="#d5463e"/>
<rect x="465" y="588" width="1" height="5" fill="#d5463e"/>
<path fill="#d5463e" fill-rule="evenodd" d="M463 572h5v16h-5z M464 573v14h3v-14z"/>
<rect x="472" y="544" width="1" height="32" fill="#60a45c"/>
<rect x="470" y="568" width="5" height="5" fill="#60a45c"/>
<rect x="479" y="570" width="1" height="26" fill="#60a45c"/>
<rect x="477" y="574" width="5" height="3" fill="#60a45c"/>
<rect x="486" y="563" width="1" height="14" fill="#d5463e"/>
<path fill="#d5463e" fill-rule="evenodd" d="M484 577h5v7h-5z M485 578v5h3v-5z"/>
<rect x="493" y="576" width="1" height="47" fill="#60a45c"/>
<rect x="491" y="577" width="5" height="38" fill="#60a45c"/>
<rect x="500" y="561" width="1" height="31" fill="#d5463e"/>
<rect x="500" y="616" width="1" height="3" fill="#d5463e"/>
<path fill="#d5463e" fill-rule="evenodd" d="M498 592h5v24h-5z M499 593v22h3v-22z"/>
<rect x="507" y="587" width="1" height="44" fill="#60a45c"/>
<rect x="505" y="597" width="5" height="31" fill="#60a45c"/>
<rect x="514" y="602" width="1" height="10" fill="#d5463e"/>
<rect x="514" y="631" width="1" height="4" fill="#d5463e"/>
<path fill="#d5463e" fill-rule="evenodd" d="M512 612h5v19h-5z M513 613v17h3v-17z"/>
<rect x="521" y="605" width="1" height="33" fill="#60a45c"/>
<rect x="519" y="613" width="5" height="23" fill="#60a45c"/>
<rect x="528" y="620" width="1" height="30" fill="#60a45c"/>
<rect x="526" y="638" width="5" height="2" fill="#60a45c"/>
<rect x="535" y="623" width="1" height="9" fill="#d5463e"/>
<rect x="535" y="640" width="1" height="6" fill="#d5463e"/>
<path fill="#d5463e" fill-rule="evenodd" d="M533 632h5v8h-5z M534 633v6h3v-6z"/>
<rect x="542" y="594" width="1" height="2" fill="#d5463e"/>
<rect x="542" y="632" width="1" height="3" fill="#d5463e"/>
<path fill="#d5463e" fill-rule="evenodd" d="M540 596h5v36h-5z M541 597v34h3v-34z"/>
<rect x="549" y="590" width="1" height="24" fill="#60a45c"/>
<rect x="547" y="596" width="5" height="10" fill="#60a45c"/>
<rect x="556" y="583" width="1" height="12" fill="#d5463e"/>
<rect x="556" y="606" width="1" height="1" fill="#d5463e"/>
<path fill="#d5463e" fill-rule="evenodd" d="M554 595h5v11h-5z M555 596v9h3v-9z"/>
<rect x="563" y="583" width="1" height="25" fill="#60a45c"/>
<rect x="561" y="595" width="5" height="13" fill="#60a45c"/>
<rect x="570" y="573" width="1" height="19" fill="#d5463e"/>
<rect x="570" y="608" width="1" height="1" fill="#d5463e"/>
<path fill="#d5463e" fill-rule="evenodd" d="M568 592h5v16h-5z M569 593v14h3v-14z"/>
<rect x="577" y="583" width="1" height="3" fill="#d5463e"/>
<rect x="577" y="589" width="1" height="11" fill="#d5463e"/>
<path fill="#d5463e" fill-rule="evenodd" d="M575 586h5v3h-5z M576 587v1h3v-1z"/>
<rect x="584" y="574" width="1" height="4" fill="#d5463e"/>
<rect x="584" y="586" width="1" height="13" fill="#d5463e"/>
<path fill="#d5463e" fill-rule="evenodd" d="M582 578h5v8h-5z M583 579v6h3v-6z"/>
<rect x="591" y="562" width="1" height="34" fill="#60a45c"/>
<rect x="589" y="579" width="5" height="17" fill="#60a45c"/>
<rect x="598" y="554" width="1" height="11" fill="#d5463e"/>
<rect x="598" y="596" width="1" height="2" fill="#d5463e"/>
<path fill="#d5463e" fill-rule="evenodd" d="M596 565h5v31h-5z M597 566v29h3v-29z"/>
<rect x="605" y="564" width="1" height="25" fill="#60a45c"/>
<rect x="603" y="565" width="5" height="10" fill="#60a45c"/>
<rect x="612" y="572" width="1" height="25" fill="#60a45c"/>
<rect x="610" y="582" width="5" height="14" fill="#60a45c"/>
<rect x="619" y="589" width="1" height="41" fill="#60a45c"/>
<rect x="617" y="596" width="5" height="34" fill="#60a45c"/>
<rect x="626" y="618" width="1" height="24" fill="#60a45c"/>
<rect x="624" y="631" width="5" height="3" fill="#60a45c"/>
<rect x="633" y="607" width="1" height="10" fill="#d5463e"/>
<rect x="633" y="635" width="1" height="1" fill="#d5463e"/>
<path fill="#d5463e" fill-rule="evenodd" d="M631 617h5v18h-5z M632 618v16h3v-16z"/>
<rect x="640" y="576" width="1" height="11" fill="#d5463e"/>
<path fill="#d5463e" fill-rule="evenodd" d="M638 587h5v31h-5z M639 588v29h3v-29z"/>
<rect x="647" y="569" width="1" height="2" fill="#d5463e"/>
<rect x="647" y="587" width="1" height="5" fill="#d5463e"/>
<path fill="#d5463e" fill-rule="evenodd" d="M645 571h5v16h-5z M646 572v14h3v-14z"/>
<rect x="654" y="548" width="1" height="9" fill="#d5463e"/>
<rect x="654" y="572" width="1" height="3" fill="#d5463e"/>
<path fill="#d5463e" fill-rule="evenodd" d="M652 557h5v15h-5z M653 558v13h3v-13z"/>
<rect x="661" y="523" width="1" height="9" fill="#d5463e"/>
<rect x="661" y="557" width="1" height="5" fill="#d5463e"/>
<path fill="#d5463e" fill-rule="evenodd" d="M659 532h5v25h-5z M660 533v23h3v-23z"/>
<rect x="668" y="518" width="1" height="2" fill="#d5463e"/>
<rect x="668" y="532" width="1" height="5" fill="#d5463e"/>
<path fill="#d5463e" fill-rule="evenodd" d="M666 520h5v12h-5z M667 521v10h3v-10z"/>
<rect x="675" y="508" width="1" height="51" fill="#60a45c"/>
<rect x="673" y="521" width="5" height="34" fill="#60a45c"/>
<rect x="682" y="545" width="1" height="9" fill="#d5463e"/>
<rect x="682" y="558" width="1" height="4" fill="#d5463e"/>
<path fill="#d5463e" fill-rule="evenodd" d="M680 554h5v4h-5z M681 555v2h3v-2z"/>
<rect x="689" y="539" width="1" height="20" fill="#60a45c"/>
<rect x="687" y="554" width="5" height="3" fill="#60a45c"/>
<rect x="696" y="552" width="1" height="20" fill="#60a45c"/>
<rect x="694" y="557" width="5" height="13" fill="#60a45c"/>
<rect x="703" y="554" width="1" height="14" fill="#d5463e"/>
<rect x="703" y="571" width="1" height="6" fill="#d5463e"/>
<path fill="#d5463e" fill-rule="evenodd" d="M701 568h5v3h-5z M702 569v1h3v-1z"/>
<rect x="710" y="565" width="1" height="8" fill="#60a45c"/>
<rect x="708" y="569" width="5" height="1" fill="#60a45c"/>
</g>
<line x1="91" y1="569.5" x2="911" y2="569.5" stroke="#0b7dff" stroke-width="1" stroke-dasharray="3 3" shape-rendering="crispEdges"/>
<rect x="435" y="657" width="7" height="1" fill="#000" shape-rendering="crispEdges"/><rect x="437" y="655" width="1" height="4" fill="#000" shape-rendering="crispEdges"/>
<text x="442.6" y="668.7" font-size="12" fill="#60a45c" textLength="36.8" lengthAdjust="spacingAndGlyphs" font-weight="bold">1.3539</text>
<g fill="#ff00ff" shape-rendering="crispEdges">
<rect x="94" y="458" width="11" height="1"/>
<rect x="105" y="457" width="7" height="1"/>
<rect x="112" y="456" width="14" height="1"/>
<rect x="126" y="455" width="14" height="1"/>
<rect x="140" y="454" width="14" height="1"/>
<rect x="154" y="453" width="14" height="1"/>
<rect x="168" y="452" width="27" height="1"/>
<rect x="195" y="451" width="64" height="1"/>
<rect x="259" y="450" width="21" height="1"/>
<rect x="280" y="449" width="22" height="1"/>
<rect x="302" y="448" width="35" height="1"/>
<rect x="337" y="447" width="13" height="1"/>
<rect x="350" y="446" width="21" height="1"/>
<rect x="371" y="445" width="14" height="1"/>
<rect x="385" y="444" width="14" height="1"/>
<rect x="399" y="443" width="28" height="1"/>
<rect x="427" y="442" width="35" height="1"/>
<rect x="462" y="441" width="21" height="1"/>
<rect x="483" y="440" width="41" height="1"/>
<rect x="524" y="439" width="22" height="1"/>
<rect x="546" y="438" width="15" height="1"/>
<rect x="561" y="437" width="20" height="1"/>
<rect x="581" y="436" width="42" height="1"/>
<rect x="623" y="437" width="29" height="1"/>
<rect x="652" y="438" width="14" height="1"/>
<rect x="666" y="437" width="6" height="1"/>
<rect x="672" y="438" width="28" height="1"/>
<rect x="700" y="439" width="11" height="1"/>
</g>
<polyline points="94.1,315.4 103.8,319.6 119.5,332.4 135.3,340.3 165.1,358.7 179.1,364.8 193.2,370.5 210.7,378.9 220.0,383.1 233.1,391.7 247.6,400.9 263.4,411.4 275.2,417.1 291.0,423.2 298.9,429.1 312.0,438.3 325.2,447.5 333.0,452.8 340.5,456.9 352.3,464.4 364.2,474.0 376.0,482.6 389.1,493.1 402.3,503.0 415.4,513.5 422.0,516.8 430.0,524.1 442.0,534.5 450.8,538.3 472.5,543.8 495.7,548.2 513.2,553.1 530.0,557.7 534.5,560.4 546.5,562.3 560.0,564.5 582.9,568.2 598.2,571.3 612.4,575.7 626.7,581.7 639.8,587.2 653.0,590.4 678.2,590.4 679.8,589.6 685.9,589.6 686.4,590.4 700.0,590.4 700.6,591.2 710.0,591.2" fill="none" stroke="#000" stroke-width="1" stroke-linejoin="round" shape-rendering="crispEdges"/>
<g id="macd" shape-rendering="crispEdges">
<rect x="94" y="811" width="1" height="7" fill="#60a45c"/>
<rect x="101" y="811" width="1" height="33" fill="#60a45c"/>
<rect x="108" y="811" width="1" height="61" fill="#60a45c"/>
<rect x="115" y="811" width="1" height="90" fill="#60a45c"/>
<rect x="122" y="811" width="1" height="95" fill="#60a45c"/>
<rect x="129" y="811" width="1" height="69" fill="#60a45c"/>
<rect x="136" y="811" width="1" height="66" fill="#60a45c"/>
<rect x="143" y="811" width="1" height="59" fill="#60a45c"/>
<rect x="150" y="811" width="1" height="44" fill="#60a45c"/>
<rect x="157" y="811" width="1" height="28" fill="#60a45c"/>
<rect x="164" y="811" width="1" height="18" fill="#60a45c"/>
<rect x="171" y="804" width="1" height="8" fill="#d5463e"/>
<rect x="178" y="791" width="1" height="21" fill="#d5463e"/>
<rect x="185" y="782" width="1" height="30" fill="#d5463e"/>
<rect x="192" y="780" width="1" height="32" fill="#d5463e"/>
<rect x="199" y="777" width="1" height="35" fill="#d5463e"/>
<rect x="206" y="781" width="1" height="31" fill="#d5463e"/>
<rect x="213" y="772" width="1" height="40" fill="#d5463e"/>
<rect x="220" y="774" width="1" height="38" fill="#d5463e"/>
<rect x="227" y="774" width="1" height="38" fill="#d5463e"/>
<rect x="234" y="783" width="1" height="29" fill="#d5463e"/>
<rect x="241" y="776" width="1" height="36" fill="#d5463e"/>
<rect x="248" y="757" width="1" height="55" fill="#d5463e"/>
<rect x="255" y="747" width="1" height="65" fill="#d5463e"/>
<rect x="262" y="738" width="1" height="74" fill="#d5463e"/>
<rect x="269" y="746" width="1" height="66" fill="#d5463e"/>
<rect x="276" y="747" width="1" height="65" fill="#d5463e"/>
<rect x="283" y="757" width="1" height="55" fill="#d5463e"/>
<rect x="290" y="766" width="1" height="46" fill="#d5463e"/>
<rect x="297" y="777" width="1" height="35" fill="#d5463e"/>
<rect x="304" y="794" width="1" height="18" fill="#d5463e"/>
<rect x="311" y="811" width="1" height="5" fill="#60a45c"/>
<rect x="318" y="811" width="1" height="17" fill="#60a45c"/>
<rect x="325" y="811" width="1" height="47" fill="#60a45c"/>
<rect x="332" y="811" width="1" height="57" fill="#60a45c"/>
<rect x="339" y="811" width="1" height="43" fill="#60a45c"/>
<rect x="346" y="811" width="1" height="25" fill="#60a45c"/>
<rect x="353" y="811" width="1" height="18" fill="#60a45c"/>
<rect x="360" y="811" width="1" height="26" fill="#60a45c"/>
<rect x="367" y="811" width="1" height="31" fill="#60a45c"/>
<rect x="374" y="811" width="1" height="28" fill="#60a45c"/>
<rect x="381" y="811" width="1" height="31" fill="#60a45c"/>
<rect x="388" y="811" width="1" height="29" fill="#60a45c"/>
<rect x="395" y="811" width="1" height="19" fill="#60a45c"/>
<rect x="402" y="811" width="1" height="9" fill="#60a45c"/>
<rect x="409" y="811" width="1" height="7" fill="#60a45c"/>
<rect x="416" y="811" width="1" height="3" fill="#60a45c"/>
<rect x="423" y="811" width="1" height="12" fill="#60a45c"/>
<rect x="430" y="811" width="1" height="17" fill="#60a45c"/>
<rect x="437" y="811" width="1" height="19" fill="#60a45c"/>
<rect x="444" y="805" width="1" height="7" fill="#d5463e"/>
<rect x="451" y="788" width="1" height="24" fill="#d5463e"/>
<rect x="458" y="777" width="1" height="35" fill="#d5463e"/>
<rect x="465" y="766" width="1" height="46" fill="#d5463e"/>
<rect x="472" y="763" width="1" height="49" fill="#d5463e"/>
<rect x="479" y="766" width="1" height="46" fill="#d5463e"/>
<rect x="486" y="770" width="1" height="42" fill="#d5463e"/>
<rect x="493" y="792" width="1" height="20" fill="#d5463e"/>
<rect x="500" y="795" width="1" height="17" fill="#d5463e"/>
<rect x="507" y="811" width="1" height="3" fill="#60a45c"/>
<rect x="514" y="811" width="1" height="5" fill="#60a45c"/>
<rect x="521" y="811" width="1" height="15" fill="#60a45c"/>
<rect x="528" y="811" width="1" height="21" fill="#60a45c"/>
<rect x="535" y="811" width="1" height="17" fill="#60a45c"/>
<rect x="542" y="807" width="1" height="5" fill="#d5463e"/>
<rect x="549" y="800" width="1" height="12" fill="#d5463e"/>
<rect x="556" y="797" width="1" height="15" fill="#d5463e"/>
<rect x="563" y="794" width="1" height="18" fill="#d5463e"/>
<rect x="570" y="789" width="1" height="23" fill="#d5463e"/>
<rect x="577" y="785" width="1" height="27" fill="#d5463e"/>
<rect x="584" y="782" width="1" height="30" fill="#d5463e"/>
<rect x="591" y="791" width="1" height="21" fill="#d5463e"/>
<rect x="598" y="784" width="1" height="28" fill="#d5463e"/>
<rect x="605" y="787" width="1" height="25" fill="#d5463e"/>
<rect x="612" y="800" width="1" height="12" fill="#d5463e"/>
<rect x="619" y="811" width="1" height="13" fill="#60a45c"/>
<rect x="626" y="811" width="1" height="27" fill="#60a45c"/>
<rect x="633" y="811" width="1" height="24" fill="#60a45c"/>
<rect x="640" y="811" width="1" height="7" fill="#60a45c"/>
<rect x="647" y="801" width="1" height="11" fill="#d5463e"/>
<rect x="654" y="787" width="1" height="25" fill="#d5463e"/>
<rect x="661" y="771" width="1" height="41" fill="#d5463e"/>
<rect x="668" y="762" width="1" height="50" fill="#d5463e"/>
<rect x="675" y="777" width="1" height="35" fill="#d5463e"/>
<rect x="682" y="788" width="1" height="24" fill="#d5463e"/>
<rect x="689" y="799" width="1" height="13" fill="#d5463e"/>
<rect x="696" y="811" width="1" height="3" fill="#60a45c"/>
<rect x="703" y="811" width="1" height="10" fill="#60a45c"/>
<rect x="710" y="811" width="1" height="15" fill="#60a45c"/>
</g>
<polyline points="94.5,833.4 101.5,836.7 108.5,845.2 115.5,856.3 122.5,868.4 129.5,875.9 136.5,883.5 143.5,891.6 150.5,896.7 157.5,900.1 164.5,903.3 171.5,902.1 178.5,899.3 185.5,896.1 192.5,892.2 199.5,887.6 206.5,884.5 213.5,879.5 220.5,874.4 227.5,870.4 234.5,866.4 241.5,862.3 248.5,855.3 255.5,847.2 262.5,838.1 269.5,830.0 276.5,821.9 283.5,814.8 290.5,810.2 297.5,805.4 304.5,803.7 311.5,804.7 318.5,806.8 325.5,811.8 332.5,818.9 339.5,823.9 346.5,827.6 353.5,829.4 360.5,833.0 367.5,836.1 374.5,839.5 381.5,843.1 388.5,847.2 395.5,849.2 402.5,850.6 409.5,851.4 416.5,851.6 423.5,852.8 430.5,854.8 437.5,857.5 444.5,856.3 451.5,853.2 458.5,849.2 465.5,842.1 472.5,836.1 479.5,831.0 486.5,827.0 493.5,824.1 500.5,822.5 507.5,823.1 514.5,823.5 521.5,825.4 528.5,828.0 535.5,830.0 542.5,829.0 549.5,828.4 556.5,825.8 563.5,823.3 570.5,820.5 577.5,817.3 584.5,814.4 591.5,811.8 598.5,808.4 605.5,805.4 612.5,804.3 619.5,805.8 626.5,808.8 633.5,811.4 640.5,811.8 647.5,810.8 654.5,807.4 661.5,802.3 668.5,796.7 675.5,792.2 682.5,789.6 689.5,788.6 696.5,788.6 703.5,790.2 710.5,791.2" fill="none" stroke="#1414a0" stroke-width="1" stroke-linejoin="round" shape-rendering="crispEdges"/>
<polyline points="94.5,836.1 101.5,853.2 108.5,873.4 115.5,901.7 122.5,914.8 129.5,910.2 136.5,917.5 143.5,919.5 150.5,918.9 157.5,913.8 164.5,910.8 171.5,896.7 178.5,888.6 185.5,880.5 192.5,875.5 199.5,871.0 206.5,869.4 213.5,859.7 220.5,856.3 227.5,851.2 234.5,852.2 241.5,845.9 248.5,831.0 255.5,815.9 262.5,801.7 269.5,798.7 276.5,790.2 283.5,788.6 290.5,787.6 297.5,789.6 304.5,794.6 311.5,806.8 318.5,813.2 325.5,831.0 332.5,846.2 339.5,845.2 346.5,839.7 353.5,838.7 360.5,844.7 367.5,851.2 374.5,853.2 381.5,858.3 388.5,861.3 395.5,858.0 402.5,854.6 409.5,854.2 416.5,852.2 423.5,858.3 430.5,863.3 437.5,866.4 444.5,852.2 451.5,840.1 458.5,830.0 465.5,819.9 472.5,812.4 479.5,809.8 486.5,806.4 493.5,815.3 500.5,815.3 507.5,823.9 514.5,824.9 521.5,831.4 528.5,837.1 535.5,838.5 542.5,827.0 549.5,823.3 556.5,819.0 563.5,815.3 570.5,809.8 577.5,804.7 584.5,800.3 591.5,801.1 598.5,794.2 605.5,793.6 612.5,798.7 619.5,811.8 626.5,821.9 633.5,822.9 640.5,813.2 647.5,805.8 654.5,797.7 661.5,783.5 668.5,772.4 675.5,775.5 682.5,778.5 689.5,781.9 696.5,789.6 703.5,793.6 710.5,798.7" fill="none" stroke="#000" stroke-width="1" stroke-linejoin="round" shape-rendering="crispEdges"/>
<g shape-rendering="crispEdges"><rect x="20" y="920" width="71" height="1" fill="#c3cbd6"/><rect x="20" y="920" width="1" height="20" fill="#c3cbd6"/><rect x="90" y="920" width="1" height="20" fill="#c3cbd6"/><rect x="20" y="939" width="71" height="1" fill="#d5dbe3"/></g>
<text x="33.9 46.5" y="935.9" font-size="12.6" font-weight="bold" fill="#ff7a00">日线</text>
<path d="M64.5 934.8 L68.8 926.8 L73.1 934.8 Z" fill="#ff7a00"/>
<text x="783 804.7 826.5 848.3 866" y="915" font-size="31" fill="#d8e5f8" style="text-shadow:1px 1px 0.7px rgba(176,136,104,0.8)">FX678</text>
</svg>
</body></html>
